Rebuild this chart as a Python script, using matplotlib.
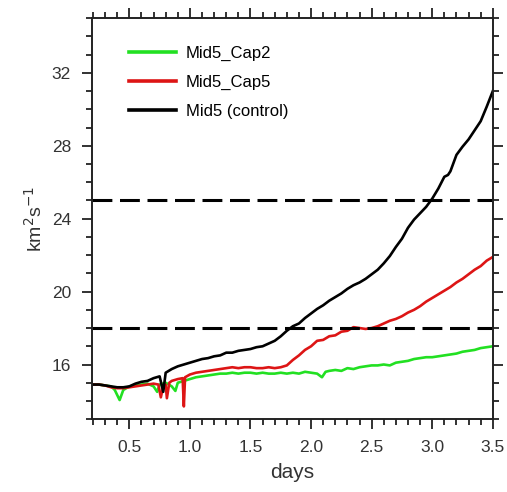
import matplotlib
matplotlib.use("Agg")
import matplotlib.pyplot as plt
from matplotlib.ticker import MultipleLocator

# time axis (days) and kinetic energy (km^2 s^-1) for each run
days_ctl = [0.19, 0.25, 0.30, 0.35, 0.40, 0.45, 0.50, 0.55, 0.60, 0.65, 0.70, 0.75,
            0.78, 0.80, 0.85, 0.90, 0.95, 1.00, 1.05, 1.10, 1.15, 1.20, 1.25, 1.30,
            1.35, 1.40, 1.45, 1.50, 1.55, 1.60, 1.65, 1.70, 1.75, 1.80, 1.85, 1.90,
            1.95, 2.00, 2.05, 2.10, 2.15, 2.20, 2.25, 2.30, 2.35, 2.40, 2.45, 2.50,
            2.55, 2.60, 2.65, 2.70, 2.75, 2.80, 2.85, 2.90, 2.95, 3.00, 3.05, 3.10,
            3.13, 3.15, 3.20, 3.25, 3.30, 3.35, 3.40, 3.45, 3.50]
ke_ctl = [14.9, 14.9, 14.85, 14.8, 14.75, 14.75, 14.8, 14.95, 15.05, 15.1, 15.25, 15.35,
          14.5, 15.55, 15.75, 15.9, 16.0, 16.1, 16.2, 16.3, 16.35, 16.45, 16.5, 16.65,
          16.65, 16.75, 16.8, 16.85, 16.95, 17.0, 17.15, 17.3, 17.55, 17.85, 18.1, 18.25,
          18.55, 18.8, 19.05, 19.25, 19.5, 19.7, 19.9, 20.15, 20.35, 20.5, 20.7, 20.95,
          21.2, 21.55, 21.95, 22.45, 22.9, 23.5, 23.95, 24.3, 24.65, 25.1, 25.65, 26.3,
          26.4, 26.6, 27.5, 27.95, 28.35, 28.85, 29.35, 30.15, 31.0]

days_cap5 = [0.19, 0.25, 0.30, 0.35, 0.40, 0.45, 0.50, 0.55, 0.60, 0.65, 0.70, 0.74,
             0.76, 0.78, 0.80, 0.81, 0.83, 0.85, 0.90, 0.94, 0.95, 0.96, 1.00, 1.05,
             1.10, 1.15, 1.20, 1.25, 1.30, 1.35, 1.40, 1.45, 1.50, 1.55, 1.60, 1.65,
             1.70, 1.75, 1.80, 1.85, 1.90, 1.95, 2.00, 2.05, 2.10, 2.15, 2.20, 2.25,
             2.30, 2.35, 2.40, 2.45, 2.50, 2.55, 2.60, 2.65, 2.70, 2.75, 2.80, 2.85,
             2.90, 2.95, 3.00, 3.05, 3.10, 3.15, 3.20, 3.25, 3.30, 3.35, 3.40, 3.45, 3.50]
ke_cap5 = [14.9, 14.9, 14.85, 14.75, 14.7, 14.7, 14.75, 14.8, 14.85, 14.9, 14.95, 14.9,
           14.2, 14.8, 14.9, 14.15, 15.0, 15.1, 15.2, 15.25, 13.7, 15.3, 15.45, 15.55,
           15.6, 15.65, 15.7, 15.75, 15.8, 15.85, 15.8, 15.85, 15.85, 15.8, 15.8, 15.85,
           15.8, 15.85, 15.95, 16.25, 16.5, 16.8, 17.0, 17.3, 17.35, 17.55, 17.6, 17.8,
           17.85, 18.05, 18.0, 17.95, 18.0, 18.1, 18.25, 18.4, 18.5, 18.65, 18.85, 19.0,
           19.2, 19.45, 19.65, 19.85, 20.05, 20.25, 20.5, 20.7, 20.95, 21.2, 21.4, 21.7, 21.9]

days_cap2 = [0.19, 0.25, 0.30, 0.35, 0.38, 0.42, 0.45, 0.50, 0.55, 0.60, 0.65, 0.70,
             0.73, 0.75, 0.80, 0.85, 0.88, 0.90, 0.95, 1.00, 1.05, 1.10, 1.15, 1.20,
             1.25, 1.30, 1.35, 1.40, 1.45, 1.50, 1.55, 1.60, 1.65, 1.70, 1.75, 1.80,
             1.85, 1.90, 1.95, 2.00, 2.05, 2.09, 2.12, 2.15, 2.20, 2.25, 2.30, 2.35,
             2.40, 2.45, 2.50, 2.55, 2.60, 2.65, 2.70, 2.75, 2.80, 2.85, 2.90, 2.95,
             3.00, 3.05, 3.10, 3.15, 3.20, 3.25, 3.30, 3.35, 3.40, 3.45, 3.50]
ke_cap2 = [14.9, 14.9, 14.85, 14.8, 14.6, 14.05, 14.6, 14.8, 14.85, 14.9, 14.95, 14.8,
           14.5, 14.9, 15.0, 14.8, 14.55, 15.0, 15.1, 15.2, 15.3, 15.35, 15.4, 15.45,
           15.5, 15.5, 15.55, 15.5, 15.55, 15.55, 15.5, 15.55, 15.5, 15.5, 15.55, 15.5,
           15.55, 15.5, 15.6, 15.55, 15.5, 15.3, 15.6, 15.65, 15.7, 15.65, 15.8, 15.75,
           15.85, 15.9, 15.95, 15.95, 16.0, 15.95, 16.1, 16.15, 16.2, 16.3, 16.35, 16.4,
           16.4, 16.45, 16.5, 16.55, 16.6, 16.7, 16.75, 16.8, 16.9, 16.95, 17.0]

thresholds = [18, 25]

plt.rcParams['font.family'] = ['Liberation Sans', 'DejaVu Sans']

fig = plt.figure(figsize=(5.07, 4.92), dpi=100)
ax = fig.add_axes([0.181, 0.148, 0.791, 0.815])

ax.plot(days_cap2, ke_cap2, color='#22e022', lw=1.9, label='Mid5_Cap2')
ax.plot(days_cap5, ke_cap5, color='#dd1515', lw=1.9, label='Mid5_Cap5')
ax.plot(days_ctl, ke_ctl, color='black', lw=1.9, label='Mid5 (control)')

for y in thresholds:
    ax.axhline(y, color='black', lw=2.2, dashes=(6.5, 2.5))

ax.set_xlim(0.19, 3.5)
ax.set_ylim(13, 35)
ax.xaxis.set_major_locator(MultipleLocator(0.5))
ax.xaxis.set_minor_locator(MultipleLocator(0.1))
ax.yaxis.set_major_locator(MultipleLocator(4))
ax.yaxis.set_minor_locator(MultipleLocator(1))
ax.tick_params(which='both', direction='out', top=True, right=True,
               width=1.3, colors='#222222', labelsize=12.5)
ax.tick_params(which='major', length=7, pad=8)
ax.tick_params(which='minor', length=4)
ax.tick_params(axis='both', labelcolor='#333333')
for s in ax.spines.values():
    s.set_linewidth(1.4)
    s.set_color('#222222')

ax.set_xlabel('days', fontsize=15, color='#333333', labelpad=6)
ax.set_ylabel('km$^2$s$^{-1}$', fontsize=14, color='#333333', labelpad=4)

leg = ax.legend(loc='upper left', frameon=False, fontsize=12, handlelength=2.8,
                handletextpad=0.6, labelspacing=0.85, borderaxespad=0.4,
                bbox_to_anchor=(0.06, 0.965))
for line in leg.get_lines():
    line.set_linewidth(2.6)

fig.savefig('out.png', dpi=100)
